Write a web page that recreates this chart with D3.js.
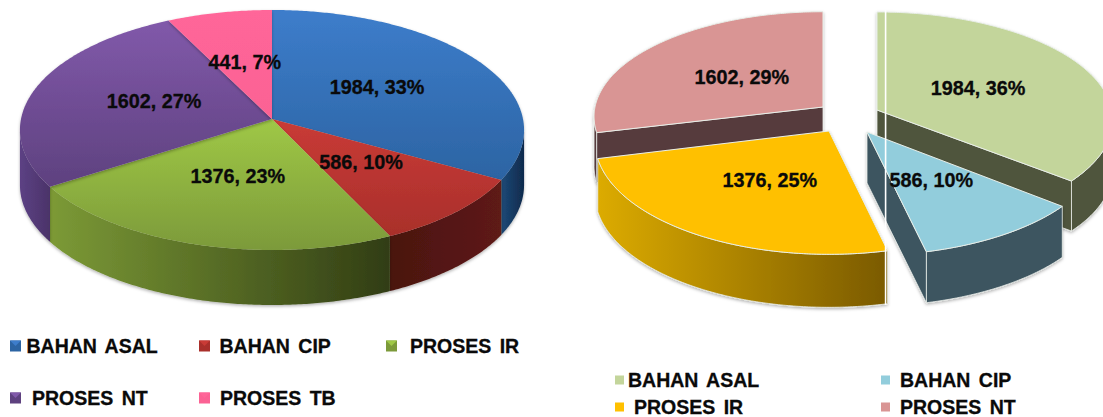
<!DOCTYPE html>
<html>
<head>
<meta charset="utf-8">
<script src="https://cdn.jsdelivr.net/npm/d3@7"></script>
<style>
  html, body { margin: 0; padding: 0; background: #fff; }
  text { font-family: "Liberation Sans", Arial, sans-serif; font-weight: bold; fill: #0a0a0a; stroke: #0a0a0a; stroke-width: 0.3px; }
</style>
</head>
<body>
<svg id="chart" width="1103" height="417"></svg>
<script>
// Data
const leftCategories = ["BAHAN ASAL", "BAHAN CIP", "PROSES IR", "PROSES NT", "PROSES TB"];
const leftValues = [1984, 586, 1376, 1602, 441];
const leftPercents = [33, 10, 23, 27, 7];

const rightCategories = ["BAHAN ASAL", "BAHAN CIP", "PROSES IR", "PROSES NT"];
const rightValues = [1984, 586, 1376, 1602];
const rightPercents = [36, 10, 25, 29];

// Colours: [top light, top dark, wall light, wall dark]
const leftColors = [
  ["#3d7dcb", "#2c64a3", "#1d4a78", "#0f2a4c"],
  ["#c93b36", "#a92f2b", "#4a1410", "#5e1a15"],
  ["#9fc846", "#7c9a3a", "#7c9a36", "#313d14"],
  ["#8159aa", "#5e417f", "#5c4184", "#4b3369"],
  ["#ff6699", "#fb6294", "#e05585", "#c04070"]
];
const rightColors = [
  ["#c3d59b", "#c3d59b", "#50553c", "#50553c"],
  ["#92cddc", "#92cddc", "#3d5460", "#3d5460"],
  ["#ffc000", "#ffc000", "#dcab00", "#7a5a00"],
  ["#d99594", "#d99594", "#563a3c", "#563a3c"]
];

const svg = d3.select("#chart");
const defs = svg.append("defs");

const shadow = defs.append("filter").attr("id", "shadow")
  .attr("x", "-5%").attr("y", "-5%").attr("width", "110%").attr("height", "115%");
shadow.append("feDropShadow")
  .attr("dx", 0).attr("dy", 1.5).attr("stdDeviation", 1.5)
  .attr("flood-color", "#000").attr("flood-opacity", 0.3);

function gradient(id, horizontal, c0, c1) {
  const g = defs.append("linearGradient").attr("id", id)
    .attr("x1", 0).attr("y1", 0)
    .attr("x2", horizontal ? 1 : 0).attr("y2", horizontal ? 0 : 1);
  g.append("stop").attr("offset", 0).attr("stop-color", c0);
  g.append("stop").attr("offset", 1).attr("stop-color", c1);
  return `url(#${id})`;
}

// Circle seen in perspective, apex keeps the centre of the circle
const k = 0.0917;
function project(p, a, f) {
  const w = 1 + k * f * Math.cos(a);
  return [p.x + p.r * f * Math.sin(a) / w, p.y - p.s * f * Math.cos(a) / w];
}

function arcPoints(p, a0, a1) {
  const pts = d3.range(a0, a1, 0.01).map(a => project(p, a, 1));
  pts.push(project(p, a1, 1));
  return pts;
}

const line = d3.line();
const rad = d => d * Math.PI / 180;
const pie = d3.pie().sort(null).value(d => d);

function drawPie(name, values, percents, colors, layouts, order, stroke) {
  const arcs = pie(values);
  const g = svg.append("g").attr("class", name);

  // Draw slices back to front
  order.forEach(i => {
    const d = arcs[i], p = layouts[i], c = colors[i];
    const slice = g.append("g");
    if (p.shadow !== false) slice.attr("filter", "url(#shadow)");

    // Outer wall, only the near part of the rim shows
    const w0 = Math.max(d.startAngle, rad(95)), w1 = Math.min(d.endAngle, rad(265));
    if (w0 < w1) {
      const rim = arcPoints(p, w0, w1);
      const low = rim.map(q => [q[0], q[1] + p.depth]).reverse();
      slice.append("path")
        .attr("d", line(rim.concat(low)) + "Z")
        .attr("fill", gradient(`${name}-wall-${i}`, true, c[2], c[3]))
        .attr("stroke", stroke).attr("stroke-width", stroke === "none" ? 0 : 0.8);
    }

    // Cut face for exploded slices
    if (p.face) {
      const a = p.face === "end" ? d.endAngle : d.startAngle;
      const e = project(p, a, 1);
      const face = [[p.x, p.y], e, [e[0], e[1] + p.depth], [p.x, p.y + p.depth]];
      slice.append("path")
        .attr("d", line(face) + "Z")
        .attr("fill", c[3])
        .attr("stroke", stroke).attr("stroke-width", 0.8);
    }

    // Top surface
    const top = [[p.x, p.y]].concat(arcPoints(p, d.startAngle, d.endAngle));
    slice.append("path")
      .attr("d", line(top) + "Z")
      .attr("fill", gradient(`${name}-top-${i}`, false, c[0], c[1]))
      .attr("stroke", stroke).attr("stroke-width", stroke === "none" ? 0 : 1);
  });

  return { g, arcs };
}

function drawLabels(set, values, percents, layouts, shifts) {
  set.g.selectAll("text.value")
    .data(set.arcs)
    .enter().append("text")
    .attr("class", "value")
    .attr("text-anchor", "middle")
    .attr("font-size", 19.8)
    .attr("dy", "0.35em")
    .attr("x", (d, i) => project(layouts[i], (d.startAngle + d.endAngle) / 2, 0.55)[0] + shifts[i][0])
    .attr("y", (d, i) => project(layouts[i], (d.startAngle + d.endAngle) / 2, 0.55)[1] + shifts[i][1])
    .text((d, i) => `${values[i]}, ${percents[i]}%`);
}

// Left pie, all slices share one centre
const leftLayout = { x: 272, y: 119, r: 251, s: 119, depth: 55 };
const leftSet = drawPie("left", leftValues, leftPercents, leftColors,
  leftValues.map(() => leftLayout), [0, 1, 2, 3, 4], "none");
drawLabels(leftSet, leftValues, leftPercents, leftValues.map(() => leftLayout),
  [[-11, 0], [-9, -7], [5.5, -9], [13.5, -1], [3, 4]]);

// Right pie, every slice is pulled out on its own
const rightLayouts = [
  { x: 877, y: 110, r: 235, s: 107, depth: 50, face: "end" },
  { x: 867, y: 132, r: 236, s: 112, depth: 51, face: "end" },
  { x: 829, y: 131, r: 233, s: 112, depth: 53 },
  { x: 823, y: 107, r: 228, s: 104, depth: 50, face: "start" }
];
const rightSet = drawPie("right", rightValues, rightPercents, rightColors,
  rightLayouts, [3, 0, 2, 1], "#e8eee8");

// White seam running through the right picture
svg.append("line")
  .attr("x1", 885.6).attr("x2", 885.6).attr("y1", 10).attr("y2", 305)
  .attr("stroke", "#fff").attr("stroke-width", 1.6);

drawLabels(rightSet, rightValues, rightPercents, rightLayouts,
  [[-13, 3], [-8, -6], [10.5, -6], [14.5, 4]]);

// Legends
const leftLegendX = [10, 199, 386, 10, 199];
const leftLegendTextX = [26.5, 219.5, 410, 32, 220];
const leftLegendY = [346, 346, 346, 398, 398];
const rightLegendX = [615, 881, 615, 881];
const rightLegendTextX = [628, 900, 634, 900];
const rightLegendY = [380, 380, 407, 407];

function drawLegend(name, cats, colors, boxX, textX, rowY, bevel) {
  const items = svg.append("g").attr("class", name + "-legend")
    .selectAll("g").data(cats).enter().append("g");
  items.append("rect")
    .attr("x", (d, i) => boxX[i])
    .attr("y", (d, i) => rowY[i] - (bevel ? 5.5 : 4.5))
    .attr("width", bevel ? 11 : 9)
    .attr("height", bevel ? 11 : 9)
    .attr("fill", (d, i) => bevel ? colors[i][1] : colors[i][0]);
  if (bevel) {
    items.append("path")
      .attr("d", (d, i) => line([
        [boxX[i], rowY[i] - 5.5], [boxX[i] + 11, rowY[i] - 5.5], [boxX[i] + 5.5, rowY[i]]
      ]) + "Z")
      .attr("fill", (d, i) => colors[i][0]);
  }
  items.append("text")
    .attr("x", (d, i) => textX[i])
    .attr("y", (d, i) => rowY[i])
    .attr("dy", "0.35em")
    .attr("font-size", 19.5)
    .attr("word-spacing", 3)
    .text(d => d);
}

drawLegend("left", leftCategories, leftColors, leftLegendX, leftLegendTextX, leftLegendY, true);
drawLegend("right", rightCategories, rightColors, rightLegendX, rightLegendTextX, rightLegendY, false);
</script>
</body>
</html>
